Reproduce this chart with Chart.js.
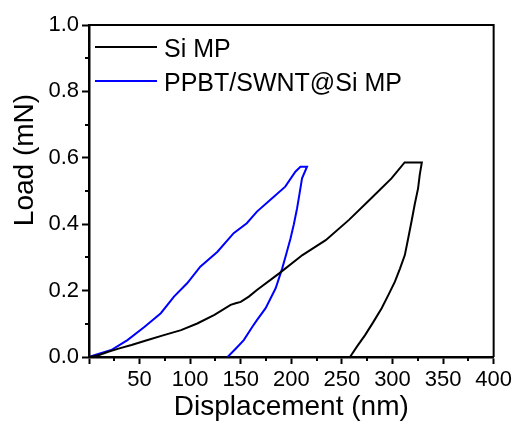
<!DOCTYPE html>
<html>
<head>
<meta charset="utf-8">
<script src="https://cdn.jsdelivr.net/npm/chart.js@4"></script>
<style>
  body { margin: 0; background: #fff; }
  #wrap { width: 515px; height: 423px; }
</style>
</head>
<body>
<div id="wrap"><canvas id="myChart" width="515" height="423"></canvas></div>
<script>
'use strict';

// Data
let siX = [0, 10, 19, 30, 42, 58, 74, 91, 107, 124, 140, 145, 150, 158, 166, 188, 211, 234, 257, 279, 299, 312, 329,
  327, 325.3, 322, 318.8, 315.5, 312.2, 307.5, 302.4, 296, 289.3, 281, 272.9, 265, 258];
let siY = [0, 0.006, 0.016, 0.026, 0.036, 0.051, 0.066, 0.081, 0.101, 0.127, 0.157, 0.162, 0.166, 0.182, 0.202, 0.252, 0.307, 0.352, 0.413, 0.478, 0.538, 0.586, 0.586,
  0.55, 0.508, 0.46, 0.408, 0.357, 0.307, 0.267, 0.227, 0.187, 0.147, 0.105, 0.066, 0.032, 0];
let ppbtX = [0, 6, 22, 38, 55, 71, 84, 97, 110, 127, 143, 156, 166, 181, 194, 204, 209, 215.5,
  210.6, 208, 205.7, 202.5, 199.2, 195, 191, 184.5, 174.6, 166, 161.5, 153, 145, 137];
let ppbtY = [0, 0.006, 0.021, 0.051, 0.091, 0.132, 0.182, 0.222, 0.272, 0.317, 0.373, 0.403, 0.438, 0.478, 0.513, 0.558, 0.573, 0.573,
  0.538, 0.49, 0.448, 0.4, 0.357, 0.31, 0.267, 0.207, 0.147, 0.111, 0.091, 0.051, 0.025, 0];

let seriesNames = ['Si MP', 'PPBT/SWNT@Si MP'];
let seriesColors = ['#000000', '#0000ff'];
let xMinorTicks = [25, 75, 125, 175, 225, 275, 325, 375];
let yMinorTicks = [0.1, 0.3, 0.5, 0.7, 0.9];
let yTitle = 'Load (mN)';

let fontFamily = "'Liberation Sans', Arial, sans-serif";

function toPoints(xs, ys) {
  let pts = [];
  for (let i = 0; i < xs.length; i++) {
    pts.push({ x: xs[i], y: ys[i] });
  }
  return pts;
}

// minor ticks, top/right frame, y title and the legend box
let extras = {
  id: 'extras',
  afterDraw(chart) {
    let ctx = chart.ctx;
    let area = chart.chartArea;
    let xs = chart.scales.x;
    let ys = chart.scales.y;
    ctx.save();
    ctx.strokeStyle = '#000';

    // frame
    ctx.lineWidth = 2;
    ctx.beginPath();
    ctx.moveTo(area.left, area.top);
    ctx.lineTo(area.right, area.top);
    ctx.lineTo(area.right, area.bottom);
    ctx.stroke();

    // minor ticks
    ctx.beginPath();
    xMinorTicks.forEach(v => {
      let px = Math.round(xs.getPixelForValue(v));
      ctx.moveTo(px, area.bottom);
      ctx.lineTo(px, area.bottom + 4);
    });
    yMinorTicks.forEach(v => {
      let py = Math.round(ys.getPixelForValue(v));
      ctx.moveTo(area.left, py);
      ctx.lineTo(area.left - 4, py);
    });
    ctx.stroke();

    // y title (sits a bit above the axis centre in the original)
    ctx.save();
    ctx.translate(25, area.top + 135);
    ctx.rotate(-Math.PI / 2);
    ctx.font = '28px ' + fontFamily;
    ctx.fillStyle = '#000';
    ctx.textAlign = 'center';
    ctx.textBaseline = 'middle';
    ctx.fillText(yTitle, 0, 0);
    ctx.restore();

    // legend
    ctx.font = '25px ' + fontFamily;
    ctx.textBaseline = 'alphabetic';
    ctx.textAlign = 'left';
    for (let i = 0; i < seriesNames.length; i++) {
      let y = area.top + 22 + i * 34;
      ctx.strokeStyle = seriesColors[i];
      ctx.lineWidth = 2;
      ctx.beginPath();
      ctx.moveTo(area.left + 6, y);
      ctx.lineTo(area.left + 68, y);
      ctx.stroke();
      ctx.fillStyle = '#000';
      ctx.fillText(seriesNames[i], area.left + 75, y + 9.5);
    }
    ctx.restore();
  }
};

let ctx = document.getElementById('myChart').getContext('2d');
let myChart = new Chart(ctx, { // eslint-disable-line
  type: 'scatter',
  data: {
    datasets: [
      {
        label: seriesNames[0],
        data: toPoints(siX, siY),
        showLine: true,
        borderColor: seriesColors[0],
        borderWidth: 2,
        pointRadius: 0,
        tension: 0
      },
      {
        label: seriesNames[1],
        data: toPoints(ppbtX, ppbtY),
        showLine: true,
        borderColor: seriesColors[1],
        borderWidth: 2,
        pointRadius: 0,
        tension: 0
      }
    ]
  },
  options: {
    responsive: false,
    animation: false,
    layout: { padding: { top: 25, right: 19, left: 0, bottom: 0 } },
    plugins: {
      legend: { display: false },
      tooltip: { enabled: false }
    },
    scales: {
      x: {
        type: 'linear',
        min: 0,
        max: 400,
        afterFit(scale) { scale.height = 66; },
        border: { color: '#000', width: 2.5 },
        grid: { drawOnChartArea: false, tickLength: 7, tickWidth: 2, tickColor: '#000' },
        ticks: {
          stepSize: 50,
          padding: 3,
          color: '#000',
          font: { family: fontFamily, size: 22 },
          maxRotation: 0,
          callback: v => (v === 0 ? '' : v)
        },
        title: {
          display: true,
          text: 'Displacement (nm)',
          color: '#000',
          font: { family: fontFamily, size: 28, lineHeight: 1.1 },
          padding: 0
        }
      },
      y: {
        type: 'linear',
        min: 0,
        max: 1,
        afterFit(scale) { scale.width = 89; },
        border: { color: '#000', width: 2.5 },
        grid: { drawOnChartArea: false, tickLength: 7, tickWidth: 2, tickColor: '#000' },
        ticks: {
          stepSize: 0.2,
          padding: 3,
          color: '#000',
          font: { family: fontFamily, size: 22 },
          callback: v => v.toFixed(1)
        },
        title: { display: false }
      }
    }
  },
  plugins: [extras]
});
</script>
</body>
</html>
